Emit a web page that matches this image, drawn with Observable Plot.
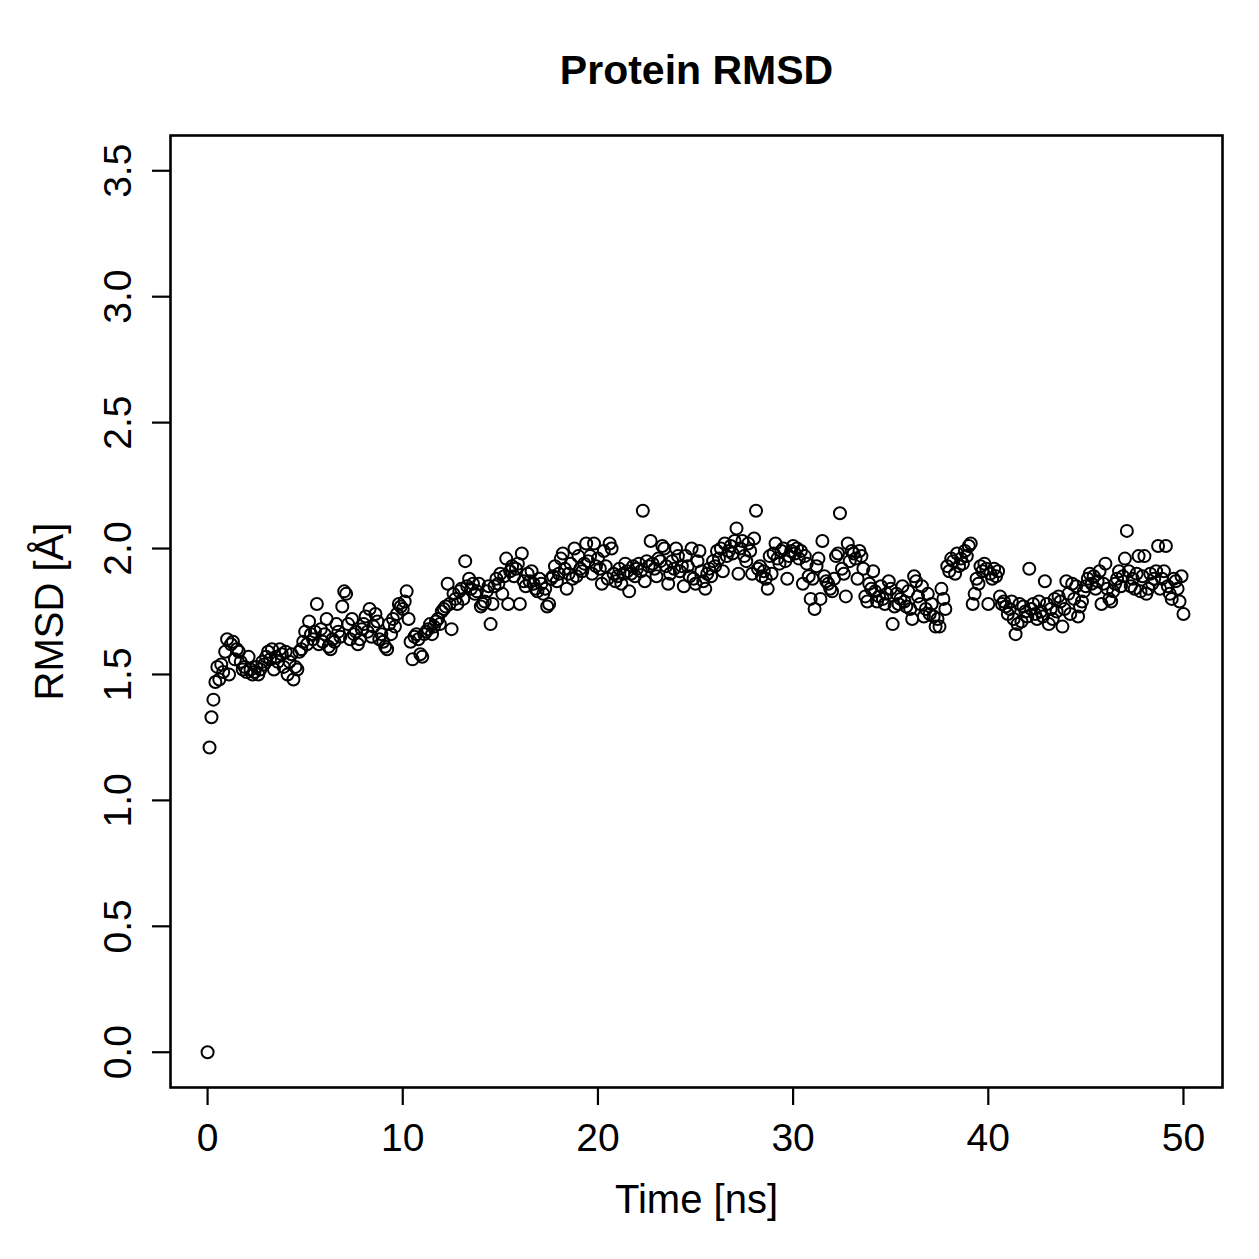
<!DOCTYPE html>
<html>
<head>
<meta charset="utf-8">
<script src="https://cdn.jsdelivr.net/npm/d3@7"></script>
<script src="https://cdn.jsdelivr.net/npm/@observablehq/plot@0.6"></script>
<style>
  html, body { margin: 0; padding: 0; background: #fff; }
  #chart svg { display: block; }
</style>
</head>
<body>
<div id="chart"></div>
<script>
// Backbone RMSD sampled every 0.1 ns over a 50 ns trajectory (one row per ns).
const timeStep = 0.1;
const rmsd = [
  0.00,1.21,1.33,1.40,1.47,1.53,1.48,1.54,1.51,1.59,
  1.64,1.50,1.62,1.63,1.56,1.60,1.59,1.55,1.52,1.53,
  1.51,1.57,1.52,1.50,1.51,1.53,1.50,1.52,1.55,1.54,
  1.57,1.59,1.56,1.60,1.52,1.57,1.55,1.60,1.58,1.53,
  1.59,1.50,1.55,1.58,1.48,1.53,1.52,1.59,1.60,1.63,
  1.67,1.62,1.71,1.66,1.64,1.67,1.78,1.62,1.68,1.63,
  1.66,1.72,1.61,1.60,1.64,1.63,1.70,1.67,1.65,1.77,
  1.83,1.82,1.70,1.64,1.72,1.66,1.67,1.62,1.64,1.68,
  1.70,1.73,1.67,1.76,1.65,1.69,1.74,1.71,1.64,1.66,
  1.63,1.61,1.60,1.70,1.66,1.72,1.69,1.74,1.78,1.77,
  1.76,1.79,1.83,1.72,1.63,1.56,1.65,1.66,1.64,1.58,
  1.57,1.66,1.67,1.68,1.70,1.66,1.69,1.71,1.72,1.70,
  1.75,1.76,1.77,1.86,1.78,1.68,1.82,1.80,1.78,1.83,
  1.84,1.80,1.95,1.85,1.88,1.84,1.86,1.82,1.83,1.86,
  1.77,1.78,1.79,1.83,1.85,1.70,1.78,1.85,1.88,1.86,
  1.90,1.82,1.89,1.96,1.78,1.91,1.93,1.89,1.92,1.94,
  1.78,1.98,1.87,1.85,1.90,1.87,1.91,1.86,1.84,1.83,
  1.88,1.86,1.82,1.84,1.77,1.78,1.88,1.89,1.93,1.87,
  1.90,1.96,1.98,1.92,1.84,1.90,1.94,1.88,2.00,1.89,
  1.97,1.92,1.91,1.94,2.02,1.95,1.97,1.90,2.02,1.93,
  1.96,1.92,1.86,1.99,1.93,1.88,2.02,2.00,1.90,1.87,
  1.89,1.92,1.86,1.90,1.94,1.91,1.83,1.90,1.93,1.89,
  1.92,1.94,1.91,2.15,1.87,1.95,1.93,2.03,1.94,1.92,
  1.89,1.96,1.95,2.01,2.00,1.93,1.86,1.90,1.95,1.92,
  2.00,1.97,1.91,1.93,1.85,1.97,1.93,1.89,2.00,1.88,
  1.86,1.95,1.99,1.91,1.87,1.84,1.90,1.92,1.89,1.95,
  1.93,1.99,1.96,2.00,1.91,2.02,1.97,1.99,2.01,1.98,
  2.03,2.08,1.90,2.00,2.03,1.97,1.95,2.02,1.99,1.90,
  2.04,2.15,1.92,1.93,1.89,1.91,1.88,1.84,1.97,1.90,
  1.98,2.02,1.96,1.94,1.99,2.00,1.95,1.88,1.97,1.99,
  2.01,1.98,2.00,1.96,1.99,1.86,1.97,1.94,1.89,1.80,
  1.88,1.76,1.93,1.96,1.80,2.03,1.89,1.87,1.86,1.84,
  1.83,1.88,1.97,1.98,2.14,1.92,1.90,1.81,2.02,1.95,
  1.99,1.98,1.96,1.88,1.99,1.97,1.92,1.81,1.79,1.86,
  1.84,1.91,1.83,1.79,1.81,1.85,1.80,1.78,1.82,1.87,
  1.84,1.70,1.77,1.82,1.78,1.80,1.85,1.79,1.77,1.83,
  1.76,1.72,1.89,1.87,1.81,1.78,1.85,1.73,1.76,1.82,
  1.74,1.78,1.73,1.69,1.72,1.69,1.84,1.80,1.76,1.93,
  1.91,1.96,1.95,1.90,1.98,1.93,1.96,1.94,1.99,1.97,
  2.01,2.02,1.78,1.82,1.88,1.86,1.93,1.91,1.94,1.92,
  1.78,1.90,1.88,1.92,1.89,1.91,1.81,1.78,1.79,1.77,
  1.74,1.76,1.79,1.72,1.66,1.70,1.78,1.71,1.77,1.75,
  1.73,1.92,1.76,1.78,1.74,1.72,1.79,1.75,1.73,1.87,
  1.78,1.70,1.76,1.72,1.80,1.75,1.81,1.79,1.69,1.76,
  1.87,1.82,1.74,1.86,1.80,1.85,1.73,1.77,1.79,1.83,
  1.85,1.88,1.90,1.86,1.89,1.84,1.87,1.91,1.78,1.86,
  1.94,1.84,1.80,1.79,1.83,1.86,1.88,1.91,1.85,1.89,
  1.96,2.07,1.91,1.85,1.88,1.84,1.90,1.97,1.83,1.89,
  1.97,1.82,1.84,1.90,1.86,1.88,1.91,2.01,1.84,1.88,
  1.91,2.01,1.85,1.82,1.80,1.88,1.87,1.84,1.79,1.89,
  1.74
];

const xTicks = [0, 10, 20, 30, 40, 50];
const yTicks = [0, 0.5, 1, 1.5, 2, 2.5, 3, 3.5];
const titleText = "Protein RMSD";
const xLabel = "Time [ns]";
const yLabel = "RMSD [Å]";

const points = rmsd.map((v, i) => ({time: +(i * timeStep).toFixed(1), rmsd: v}));

const font = "'Liberation Sans', Arial, Helvetica, sans-serif";
const fmtY = d3.format(".1f");
// centred text for all labels placed around the frame
const centred = {textAnchor: "middle", lineAnchor: "middle", fill: "#000"};

const chart = Plot.plot({
  width: 1259,
  height: 1259,
  marginLeft: 170,
  marginRight: 37,
  marginTop: 135,
  marginBottom: 172,
  style: {fontFamily: font, background: "#fff", color: "#000"},
  x: {domain: [-1.9, 52]},
  y: {domain: [-0.14, 3.64]},
  marks: [
    Plot.axisX({ticks: xTicks, tickSize: 18, strokeWidth: 2.2, tickFormat: () => "", label: null}),
    Plot.axisY({ticks: yTicks, tickSize: 18, strokeWidth: 2.2, tickFormat: () => "", label: null}),
    Plot.text(xTicks, {...centred, x: d => d, text: d => String(d), frameAnchor: "bottom", dy: 51, fontSize: 39}),
    Plot.text(yTicks, {...centred, y: d => d, text: d => fmtY(d), frameAnchor: "left", dx: -52, rotate: -90, fontSize: 39}),
    Plot.text([xLabel], {...centred, text: d => d, frameAnchor: "bottom", dy: 113, fontSize: 40}),
    Plot.text([yLabel], {...centred, text: d => d, frameAnchor: "left", dx: -120, rotate: -90, fontSize: 40}),
    Plot.text([titleText], {...centred, text: d => d, frameAnchor: "top", dy: -65, fontSize: 41, fontWeight: "bold"}),
    Plot.dot(points, {x: "time", y: "rmsd", r: 6, stroke: "#000", strokeWidth: 2, fill: "none"}),
    Plot.frame({stroke: "#000", strokeWidth: 2.6})
  ]
});

document.getElementById("chart").appendChild(chart);
</script>
</body>
</html>
